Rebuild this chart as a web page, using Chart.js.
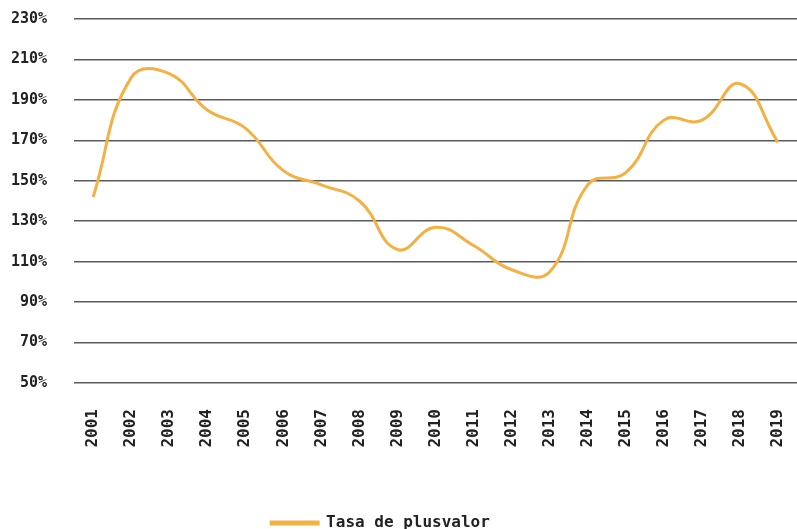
<!DOCTYPE html>
<html>
<head>
<meta charset="utf-8">
<script src="https://cdn.jsdelivr.net/npm/chart.js@4/dist/chart.umd.min.js"></script>
<style>
  html, body { margin: 0; padding: 0; background: #fff; }
  #wrap { width: 797px; height: 529px; }
</style>
</head>
<body>
<div id="wrap"><canvas id="chart"></canvas></div>
<script>
// Years on the x axis
const years = ['2001', '2002', '2003', '2004', '2005', '2006', '2007', '2008', '2009', '2010',
               '2011', '2012', '2013', '2014', '2015', '2016', '2017', '2018', '2019'];

// Tasa de plusvalor (%)
const tasaPlusvalor = [142, 201, 203, 185, 176, 155, 148, 140, 116, 127,
                       118, 106, 105, 148, 154, 180, 180, 198, 169];

// Y axis range and step
const yMin = 50;
const yMax = 230;
const yStep = 20;

const monoFont = "'DejaVu Sans Mono', monospace";

// nudge the legend a bit to the left, like in the original
const legendShift = {
    id: 'legendShift',
    afterLayout(chart) {
        chart.legend.left -= 10;
        chart.legend.right -= 10;
    }
};

const ctx = document.getElementById('chart').getContext('2d');
const chart = new Chart(ctx, {
    type: 'line',
    data: {
        labels: years,
        datasets: [{
            label: 'Tasa de plusvalor',
            data: tasaPlusvalor,
            borderColor: '#F4B042',
            backgroundColor: '#F4B042',
            borderWidth: 3,
            pointRadius: 0,
            tension: 0.45,
            fill: false
        }]
    },
    options: {
        responsive: true,
        maintainAspectRatio: false,
        animation: false,
        layout: { padding: { top: 19, left: -16, right: 0, bottom: -12 } },
        plugins: {
            tooltip: { enabled: false },
            legend: {
                position: 'bottom',
                labels: {
                    boxWidth: 47,
                    boxHeight: 2,
                    padding: 6,
                    color: '#222',
                    font: { family: monoFont, size: 16, weight: 'bold' }
                }
            }
        },
        scales: {
            x: {
                offset: true,
                grid: { display: false },
                border: { display: false },
                ticks: {
                    autoSkip: false,
                    maxRotation: 90,
                    minRotation: 90,
                    padding: 18,
                    color: '#222',
                    font: { family: monoFont, size: 16, weight: 'bold' }
                },
                afterFit: (scale) => {
                    scale.height = 126;
                    scale.paddingLeft = 0;
                    scale.paddingRight = 0;
                }
            },
            y: {
                min: yMin,
                max: yMax,
                border: { display: false },
                grid: { color: '#5a5a5a', lineWidth: 1.5, drawTicks: false },
                ticks: {
                    stepSize: yStep,
                    padding: 27,
                    color: '#222',
                    font: { family: monoFont, size: 15, weight: 'bold' },
                    callback: (v) => v + '%'
                },
                afterFit: (scale) => {
                    scale.paddingTop = 0;
                    scale.paddingBottom = 0;
                }
            }
        }
    },
    plugins: [legendShift]
});
</script>
</body>
</html>
